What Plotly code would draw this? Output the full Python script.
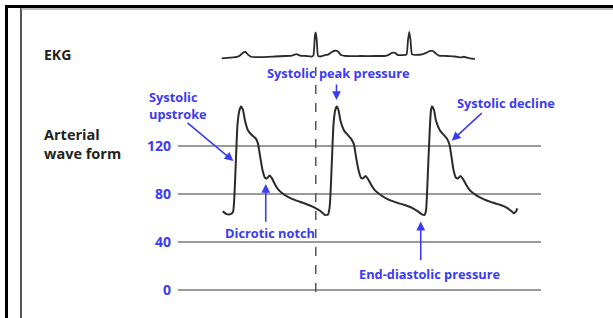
import plotly.graph_objects as go

# ---------------- data ----------------
# Arterial pressure waveform: time (ms) and pressure (mmHg)
art_t = [358, 384, 416, 440, 452, 464, 476, 492, 504, 520, 536, 560, 592, 624, 640, 656, 676, 696, 712, 732,
         752, 776, 808, 856, 912, 976, 1040, 1096, 1136, 1176, 1200, 1212,
         1220, 1232, 1244, 1258, 1270, 1284, 1300, 1328, 1360, 1388, 1408, 1424, 1444, 1464, 1480, 1500,
         1520, 1544, 1576, 1624, 1680, 1744, 1808, 1872, 1920, 1952, 1972, 1984,
         1992, 2004, 2016, 2024, 2032, 2048, 2064, 2096, 2128, 2152, 2172, 2188, 2204, 2224, 2240, 2260,
         2280, 2304, 2336, 2384, 2448, 2512, 2576, 2632, 2664, 2688, 2708, 2712]
art_p = [65.5, 63.5, 63, 65, 80, 110, 138, 150, 153, 150, 141, 133, 129, 126, 122, 112, 100, 93.5, 93, 95.5,
         93, 88, 83, 79, 76, 73.5, 71, 68.5, 66, 62.5, 63, 68,
         80, 110, 138, 150, 153, 150, 141, 133, 129, 125.5, 121, 111, 100, 93.5, 93, 95,
         92.5, 88, 83, 79, 75.5, 73, 71, 68.5, 65.5, 63, 62.5, 66,
         80, 110, 138, 150, 153, 150, 141, 133, 129, 126, 121, 111, 100, 93.5, 93, 95,
         92.5, 88, 83, 79, 75.5, 73, 71, 68.5, 66, 64, 66, 68]

# EKG trace: time (ms) and voltage (mV)
ekg_t = [350, 416, 472, 496, 520, 540, 560, 584, 656, 776, 856, 912, 948, 976, 1024, 1072, 1084, 1096, 1102,
         1110, 1120, 1136, 1176, 1200, 1232, 1256, 1280, 1304, 1344, 1456, 1576, 1664, 1688, 1712, 1736,
         1760, 1792, 1828, 1840, 1850, 1860, 1872, 1904, 1952, 1984, 2016, 2040, 2064, 2088, 2144, 2216,
         2264, 2288, 2304, 2336, 2376]
ekg_v = [-0.075, -0.05, -0.02, 0.04, 0.16, 0.19, 0.08, -0.01, -0.03, 0.0, 0.02, 0.04, 0.1, 0.04, 0.02, 0.0, 0.06,
         0.9, 1.0, 0.69, 0.02, 0.0, 0.06, 0.08, 0.19, 0.24, 0.21, 0.06, 0.02, 0.02, 0.02, 0.03, 0.08, 0.15,
         0.15, 0.06, 0.06, 0.08, 0.69, 1.03, 0.69, 0.09, 0.07, 0.09, 0.15, 0.23, 0.23, 0.12, 0.04, 0.02, 0.0,
         -0.04, -0.01, -0.04, -0.08, -0.1]

r_peak_t = 1102  # first R wave, marked with dashed line

tick_vals = [0, 40, 80, 120]
tick_text = ["0", "40", "80", "120"]

# arrows: (tip_t, tip_p, tail_t, tail_p)
arrows = [
    (443, 107.5, 64, 140.3),     # systolic upstroke
    (1268, 158.3, 1268, 172.5),  # systolic peak
    (2190, 124.4, 2442, 148.6),  # systolic decline
    (702, 88.3, 702, 55.6),      # dicrotic notch
    (1942, 57.0, 1942, 23.6),    # end-diastolic
]
labels = [
    ("Systolic peak pressure", 696, 181),
    ("Systolic decline", 2216, 155.6),
    ("Dicrotic notch", 362, 47.3),
    ("End-diastolic pressure", 1430, 13.1),
]

# ---------------- layout helpers ----------------
W, H = 613, 318
L, R, T, B = 178, 72, 20, 18
PW, PH = W - L - R, H - T - B
def px(x):  # screen pixel -> paper x
    return (x - L) / PW
def py(y):  # screen pixel -> paper y
    return (H - B - y) / PH

BLUE = "#3b3bf2"
FONT = "Open Sans"

fig = go.Figure()
fig.add_trace(go.Scatter(x=art_t, y=art_p, mode="lines", yaxis="y",
                         line=dict(color="#2a2a2a", width=2, shape="spline", smoothing=0.5),
                         hoverinfo="skip", showlegend=False))
fig.add_trace(go.Scatter(x=ekg_t, y=ekg_v, mode="lines", yaxis="y2",
                         line=dict(color="#2a2a2a", width=1.8, shape="spline", smoothing=0.4),
                         hoverinfo="skip", showlegend=False))

anns = []
for tt, tp, at, ap in arrows:
    anns.append(dict(x=tt, y=tp, ax=at, ay=ap, xref="x", yref="y", axref="x", ayref="y",
                     text="", showarrow=True, arrowhead=2, arrowsize=1.1, arrowwidth=1.6,
                     arrowcolor=BLUE, standoff=0, startstandoff=0))
for txt, tx, ty in labels:
    anns.append(dict(x=tx, y=ty, xref="x", yref="y", text=txt, showarrow=False,
                     xanchor="left", yanchor="middle", align="left",
                     font=dict(family=FONT, size=12.8, color=BLUE, weight="bold")))
anns.append(dict(x=px(147), y=py(105), xref="paper", yref="paper", text="Systolic<br>upstroke",
                 showarrow=False, xanchor="left", yanchor="middle", align="left",
                 font=dict(family=FONT, size=12.8, color=BLUE, weight="bold")))
anns.append(dict(x=px(42), y=py(54), xref="paper", yref="paper", text="EKG", showarrow=False,
                 xanchor="left", yanchor="middle", font=dict(family=FONT, size=14, color="#222", weight="bold")))
anns.append(dict(x=px(42), y=py(144), xref="paper", yref="paper", text="Arterial<br>wave form",
                 showarrow=False, xanchor="left", yanchor="middle", align="left",
                 font=dict(family=FONT, size=14.5, color="#222", weight="bold")))

shapes = [
    # dashed vertical through first R wave
    dict(type="line", xref="x", yref="paper", x0=r_peak_t, x1=r_peak_t, y0=py(292), y1=py(61),
         line=dict(color="#555", width=1.5, dash="dash")),
    # frame
    dict(type="line", xref="paper", yref="paper", x0=px(5), x1=px(613), y0=py(6.5), y1=py(6.5),
         line=dict(color="#000", width=3)),
    dict(type="line", xref="paper", yref="paper", x0=px(6.5), x1=px(6.5), y0=py(5), y1=py(318),
         line=dict(color="#000", width=3)),
    dict(type="line", xref="paper", yref="paper", x0=px(21), x1=px(21), y0=py(8), y1=py(318),
         line=dict(color="#555", width=2)),
    dict(type="line", xref="paper", yref="paper", x0=px(21), x1=px(613), y0=py(9), y1=py(9),
         line=dict(color="#aaa", width=1.5)),
]

# main y axis: 0 at screen y=290, 1.2 px per mmHg
y_lo = -(H - B - 290) / 1.2
y_hi = (290 - T) / 1.2
fig.update_layout(
    width=W, height=H, margin=dict(l=L, r=R, t=T, b=B),
    paper_bgcolor="white", plot_bgcolor="white",
    xaxis=dict(range=[0, PW * 8], visible=False, showgrid=False, zeroline=False),
    yaxis=dict(domain=[0, 1], range=[y_lo, y_hi], tickvals=tick_vals, ticktext=tick_text,
               showgrid=True, gridcolor="#9a9a9a", gridwidth=1.2, zeroline=False, showline=False,
               ticks="", ticklabelstandoff=6,
               tickfont=dict(family=FONT, size=14, color=BLUE, weight="bold")),
    yaxis2=dict(domain=[py(76), py(20)], range=[(56.5 - 76) / 24, (56.5 - 20) / 24],
                visible=False, showgrid=False, zeroline=False),
    annotations=anns, shapes=shapes, showlegend=False,
)
fig.write_html("out.html", config={"displayModeBar": False, "staticPlot": True},
               post_script="document.body.style.margin='0';document.body.style.overflow='hidden';")
